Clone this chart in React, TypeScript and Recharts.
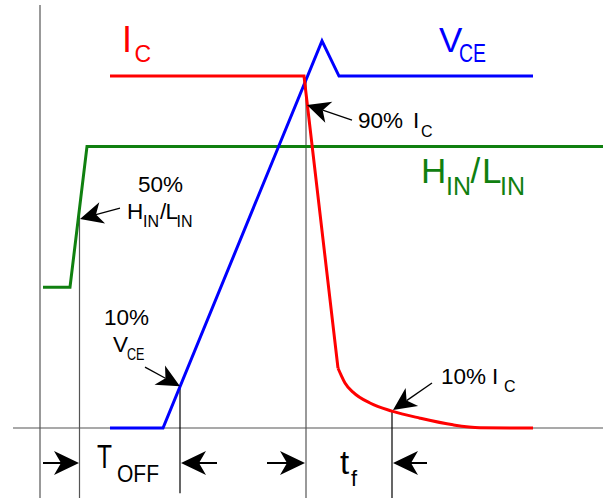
import React from "react";
import {
  ComposedChart,
  Line,
  XAxis,
  YAxis,
  ReferenceLine,
  ReferenceDot,
} from "recharts";

// time axis in arbitrary units, level axis in % of full scale
const T_DOMAIN: [number, number] = [-4, 56.9];
const V_DOMAIN: [number, number] = [-20.45, 121.6];

// gate input H_IN / L_IN
const HIN_T = [0.3, 3.0, 4.7, 56.3];
const HIN_V = [40, 40, 80, 80];

// collector current: flat top and fall
const IC_T = [7.0, 26.4, 29.8];
const IC_V = [100, 100, 17];

// collector current: tail
const IC_TAIL_T = [29.8, 30.1, 30.5, 31.3, 33.0, 35.2, 38.0, 41.3, 44.0, 49.3];
const IC_TAIL_V = [17, 15.1, 12.8, 10.2, 7.1, 4.8, 2.8, 0.9, 0.1, 0];

// collector-emitter voltage
const VCE_T = [7.0, 12.3, 28.2, 29.9, 49.3];
const VCE_V = [0, 0, 110, 100, 100];

// zero line
const BASE_T = [-2.7, 56.3];

// timing markers (vertical lines)
const MARK_T = [0, 3.95, 14.0, 26.6, 35.2];
const MARK_TOP = [120.2, 60.2, 12.0, 99.7, 4.8];
const MARK_BOTTOM = [-19.9, -19.9, -18.5, -19.9, -19.9];

// pointer arrows: [tail t, tail v, tip t, tip v]
const POINTERS = [
  [8.0, 62.5, 4.0, 59.4], // 50% HIN/LIN
  [31.2, 87.5, 26.7, 91.8], // 90% IC
  [10.5, 17.3, 14.0, 11.9], // 10% VCE
  [39.2, 12.8, 35.3, 5.1], // 10% IC
];

// interval arrows on the time axis
const SPAN_V = -9.94;
const SPANS = [
  [0.3, 3.9],
  [17.7, 14.1],
  [22.7, 26.5],
  [38.7, 35.3],
];

const FONT = "'Liberation Sans', Arial, sans-serif";
const RED = "#ff0000";
const BLUE = "#0000ff";
const GREEN = "#108010";

const toRows = (ts: number[], vs: number[]) =>
  ts.map((t, i) => ({ t, v: vs[i] }));

const arrowShape = (len: number, half: number, width: number) => (p: any) => {
  const { x1, y1, x2, y2 } = p;
  const dx = x2 - x1;
  const dy = y2 - y1;
  const d = Math.hypot(dx, dy) || 1;
  const ux = dx / d;
  const uy = dy / d;
  const nx = -uy;
  const ny = ux;
  const bx = x2 - ux * len;
  const by = y2 - uy * len;
  const mx = x2 - ux * len * 0.72;
  const my = y2 - uy * len * 0.72;
  const pts = [
    [x2, y2],
    [bx + nx * half, by + ny * half],
    [mx, my],
    [bx - nx * half, by - ny * half],
  ]
    .map((q) => q.join(","))
    .join(" ");
  return (
    <g>
      <line x1={x1} y1={y1} x2={mx} y2={my} stroke="#000" strokeWidth={width} />
      <polygon points={pts} fill="#000" />
    </g>
  );
};

type Part = { s: string; dx: number; dy: number; size: number; w?: number };

const labelShape = (parts: Part[], color: string) => (p: any) => (
  <g>
    {parts.map((q, i) => (
      <text
        key={i}
        x={p.cx + q.dx}
        y={p.cy + q.dy}
        fontSize={q.size}
        fill={color}
        fontFamily={FONT}
        textLength={q.w}
        lengthAdjust={q.w ? "spacingAndGlyphs" : undefined}
      >
        {q.s}
      </text>
    ))}
  </g>
);

const LABELS: { t: number; v: number; color: string; parts: Part[] }[] = [
  {
    t: 8.2,
    v: 106.8,
    color: RED,
    parts: [
      { s: "I", dx: 0, dy: 0, size: 36 },
      { s: "C", dx: 12.5, dy: 10, size: 23 },
    ],
  },
  {
    t: 39.9,
    v: 106.8,
    color: BLUE,
    parts: [
      { s: "V", dx: 0, dy: 0, size: 35 },
      { s: "CE", dx: 20, dy: 10, size: 25, w: 27 },
    ],
  },
  {
    t: 38.1,
    v: 69.6,
    color: GREEN,
    parts: [
      { s: "H", dx: 0, dy: 0, size: 35 },
      { s: "IN", dx: 25, dy: 12, size: 25 },
      { s: "/", dx: 49.5, dy: 0, size: 35 },
      { s: "L", dx: 61, dy: 0, size: 35 },
      { s: "IN", dx: 79, dy: 12, size: 25 },
    ],
  },
  {
    t: 9.8,
    v: 67.05,
    color: "#000",
    parts: [
      { s: "50%", dx: 0, dy: 0, size: 22.5 },
      { s: "H", dx: -11, dy: 27, size: 22.5 },
      { s: "IN", dx: 5, dy: 35, size: 16 },
      { s: "/", dx: 22, dy: 27, size: 22.5 },
      { s: "L", dx: 27.5, dy: 27, size: 22.5 },
      { s: "IN", dx: 38.5, dy: 35, size: 16 },
    ],
  },
  {
    t: 6.4,
    v: 29.26,
    color: "#000",
    parts: [
      { s: "10%", dx: 0, dy: 0, size: 22.5 },
      { s: "V", dx: 9, dy: 27, size: 22.5 },
      { s: "CE", dx: 23, dy: 35, size: 16, w: 17.5 },
    ],
  },
  {
    t: 31.8,
    v: 85.23,
    color: "#000",
    parts: [
      { s: "90%", dx: 0, dy: 0, size: 22.5 },
      { s: "I", dx: 55, dy: 0, size: 22.5 },
      { s: "C", dx: 63, dy: 9, size: 16 },
    ],
  },
  {
    t: 40.1,
    v: 12.5,
    color: "#000",
    parts: [
      { s: "10%", dx: 0, dy: 0, size: 22.5 },
      { s: "I", dx: 51, dy: 0, size: 22.5 },
      { s: "C", dx: 63, dy: 8, size: 16 },
    ],
  },
  {
    t: 5.7,
    v: -11.36,
    color: "#000",
    parts: [
      { s: "T", dx: 0, dy: 0, size: 34, w: 15 },
      { s: "OFF", dx: 20, dy: 14, size: 24, w: 42 },
    ],
  },
  {
    t: 30.0,
    v: -13.07,
    color: "#000",
    parts: [
      { s: "t", dx: 0, dy: 0, size: 33 },
      { s: "f", dx: 11, dy: 12, size: 22 },
    ],
  },
];

const App: React.FC = () => {
  return (
    <div style={{ position: "absolute", left: 0, top: 0, background: "#fff" }}>
      <ComposedChart
        width={609}
        height={500}
        margin={{ top: 0, right: 0, bottom: 0, left: 0 }}
      >
        <XAxis
          type="number"
          dataKey="t"
          domain={T_DOMAIN}
          allowDataOverflow
          hide
        />
        <YAxis type="number" domain={V_DOMAIN} allowDataOverflow hide />

        <ReferenceLine
          segment={[
            { x: BASE_T[0], y: 0 },
            { x: BASE_T[1], y: 0 },
          ]}
          stroke="#555"
          strokeWidth={1.2}
        />
        {MARK_T.map((t, i) => (
          <ReferenceLine
            key={`m${i}`}
            segment={[
              { x: t, y: MARK_TOP[i] },
              { x: t, y: MARK_BOTTOM[i] },
            ]}
            stroke={i === 2 || i === 4 ? "#000" : "#555"}
            strokeWidth={1.2}
          />
        ))}

        <Line
          data={toRows(HIN_T, HIN_V)}
          dataKey="v"
          type="linear"
          stroke={GREEN}
          strokeWidth={3}
          dot={false}
          activeDot={false}
          isAnimationActive={false}
        />
        <Line
          data={toRows(VCE_T, VCE_V)}
          dataKey="v"
          type="linear"
          stroke={BLUE}
          strokeWidth={3}
          dot={false}
          activeDot={false}
          isAnimationActive={false}
        />
        <Line
          data={toRows(IC_T, IC_V)}
          dataKey="v"
          type="linear"
          stroke={RED}
          strokeWidth={3}
          dot={false}
          activeDot={false}
          isAnimationActive={false}
        />
        <Line
          data={toRows(IC_TAIL_T, IC_TAIL_V)}
          dataKey="v"
          type="monotone"
          stroke={RED}
          strokeWidth={3}
          dot={false}
          activeDot={false}
          isAnimationActive={false}
        />

        {POINTERS.map((a, i) => (
          <ReferenceLine
            key={`p${i}`}
            segment={[
              { x: a[0], y: a[1] },
              { x: a[2], y: a[3] },
            ]}
            shape={arrowShape(23, 11, 1.3)}
          />
        ))}
        {SPANS.map((s, i) => (
          <ReferenceLine
            key={`s${i}`}
            segment={[
              { x: s[0], y: SPAN_V },
              { x: s[1], y: SPAN_V },
            ]}
            shape={arrowShape(25, 12, 2)}
          />
        ))}

        {LABELS.map((l, i) => (
          <ReferenceDot
            key={`l${i}`}
            x={l.t}
            y={l.v}
            r={1}
            shape={labelShape(l.parts, l.color)}
          />
        ))}
      </ComposedChart>
    </div>
  );
};

export default App;
